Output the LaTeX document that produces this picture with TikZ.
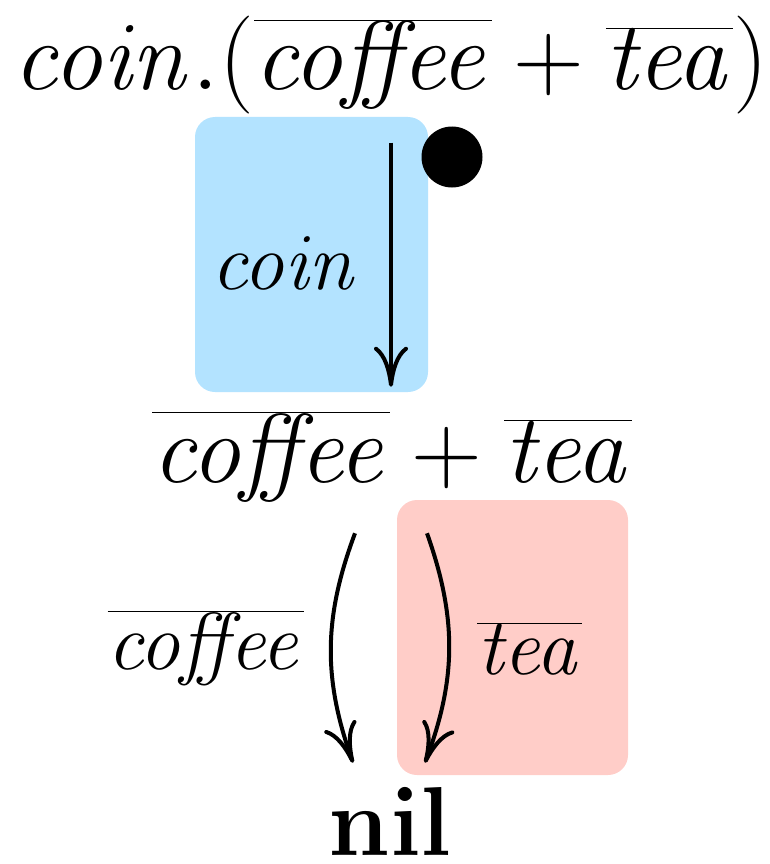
\RequirePackage{fix-cm}
\documentclass[tikz,border=0pt]{standalone}
\usetikzlibrary{positioning,arrows.meta}
\definecolor{hlblue}{RGB}{179,227,255}
\definecolor{hlred}{RGB}{255,205,200}
\tikzset{
  proc/.style={inner sep=0pt,anchor=base,font=\fontsize{98}{115}\selectfont},
  act/.style={inner sep=0pt,font=\fontsize{81}{95}\selectfont},
  trans/.style={-{Computer Modern Rightarrow[length=40pt,width=34pt]},line width=4pt},
  hlbox/.style={rounded corners=20pt}
}
\begin{document}
\begin{tikzpicture}[x=1pt,y=-1pt]
  \useasboundingbox (0,0) rectangle (769,864);
  % highlighted steps
  \fill[hlbox,hlblue] (195,117) rectangle (428,392);
  \fill[hlbox,hlred] (397,500) rectangle (628,775);
  \fill (452,157) circle (30.5);
  % process terms
  \node[proc] (start) at (391,90) {$\mathit{coin}.(\overline{\mathit{coffee}}+\overline{\mathit{tea}})$};
  \node[proc] (choice) at (392,482) {$\overline{\mathit{coffee}}+\overline{\mathit{tea}}$};
  \node[proc] (nil) at (390,855) {$\mathbf{nil}$};
  % transitions
  \draw[trans,shorten <=28pt,shorten >=25pt] (start.south) -- node[act,midway,left=30pt]{$\mathit{coin}$} (start.south |- choice.north);
  \draw[trans] ([xshift=-37pt,yshift=-32pt]choice.south) to[bend right=20] node[act,midway,left=25pt]{$\overline{\mathit{coffee}}$} ([xshift=-37pt,yshift=24pt]nil.north);
  \draw[trans] ([xshift=35pt,yshift=-32pt]choice.south) to[bend left=20] node[act,midway,right=26pt]{$\overline{\mathit{tea}}$} ([xshift=35pt,yshift=24pt]nil.north);
\end{tikzpicture}
\end{document}
